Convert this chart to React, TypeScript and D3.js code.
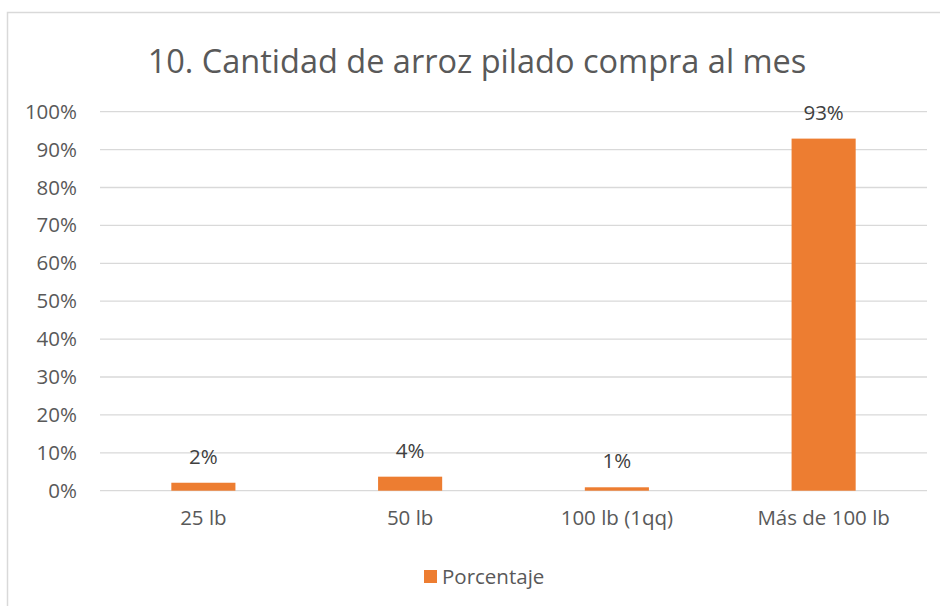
import React, { useRef, useEffect } from 'react';
import * as d3 from 'd3';

const categories = ['25 lb', '50 lb', '100 lb (1qq)', 'Más de 100 lb'];
const values = [0.021, 0.037, 0.009, 0.929];
const yTicks = [0, 0.1, 0.2, 0.3, 0.4, 0.5, 0.6, 0.7, 0.8, 0.9, 1];
const seriesName = 'Porcentaje';
const title = '10. Cantidad de arroz pilado compra al mes';

const App = () => {
  const ref = useRef<HTMLDivElement>(null);

  const width = 940;
  const height = 606;
  const left = 100;
  const right = 927;
  const top = 111.7;
  const bottom = 490.7;
  const labelFont = "'Open Sans', sans-serif";
  const fs = '20.5px';

  useEffect(() => {
    d3.select(ref.current).select('svg').remove();

    const svg = d3.select(ref.current).append('svg')
      .attr('width', width).attr('height', height)
      .style('position', 'absolute').style('left', '0px').style('top', '0px')
      .style('background', '#fff');

    // outer border, only top and left edges show
    svg.append('path')
      .attr('d', `M7.5,${height} V12.5 H${width}`)
      .attr('fill', 'none').attr('stroke', '#d9d9d9').attr('stroke-width', 1.5);

    var x = d3.scaleBand().domain(categories).range([left, right]).paddingInner(0.69).paddingOuter(0.345);
    var y = d3.scaleLinear().domain([0, 1]).range([bottom, top]);

    svg.append('text')
      .attr('x', 477).attr('y', 73)
      .attr('text-anchor', 'middle')
      .style('font-family', labelFont)
      .style('font-size', '32.5px').attr('fill', '#595959')
      .text(title);

    var yAxis = d3.axisLeft(y).tickValues(yTicks).tickFormat(d3.format('.0%')).tickSize(0).tickPadding(23);
    var gy = svg.append('g').attr('transform', `translate(${left},0)`).call(yAxis);
    gy.select('.domain').remove();
    gy.selectAll('text').style('font-family', labelFont).style('font-size', fs).attr('fill', '#595959');

    svg.append('g').selectAll('line').data(yTicks).enter().append('line')
      .attr('x1', left).attr('x2', right)
      .attr('y1', d => y(d)).attr('y2', d => y(d))
      .attr('stroke', '#d9d9d9').attr('stroke-width', 1.3);

    svg.append('g').selectAll('rect').data(values).enter().append('rect')
      .attr('x', (d, i) => x(categories[i]) as number)
      .attr('width', x.bandwidth())
      .attr('y', d => y(d))
      .attr('height', d => y(0) - y(d))
      .attr('fill', '#ed7d31');

    svg.append('g').selectAll('text').data(values).enter().append('text')
      .attr('x', (d, i) => (x(categories[i]) as number) + x.bandwidth() / 2)
      .attr('y', d => y(d) - 19)
      .attr('text-anchor', 'middle')
      .style('font-family', labelFont).style('font-size', fs).attr('fill', '#404040')
      .text(d => d3.format('.0%')(d));

    var xAxis = d3.axisBottom(x).tickSize(0).tickPadding(20);
    var gx = svg.append('g').attr('transform', `translate(0,${bottom})`).call(xAxis);
    gx.select('.domain').remove();
    gx.selectAll('text').style('font-family', labelFont).style('font-size', fs).attr('fill', '#595959');

    var legend = svg.append('g').attr('transform', 'translate(424,568)');
    legend.append('rect').attr('width', 13).attr('height', 13).attr('y', 2).attr('fill', '#ed7d31');
    legend.append('text').attr('x', 18).attr('y', 15.5)
      .style('font-family', labelFont).style('font-size', fs).attr('fill', '#595959')
      .text(seriesName);
  }, []);

  return <div ref={ref}></div>;
};

export default App;
